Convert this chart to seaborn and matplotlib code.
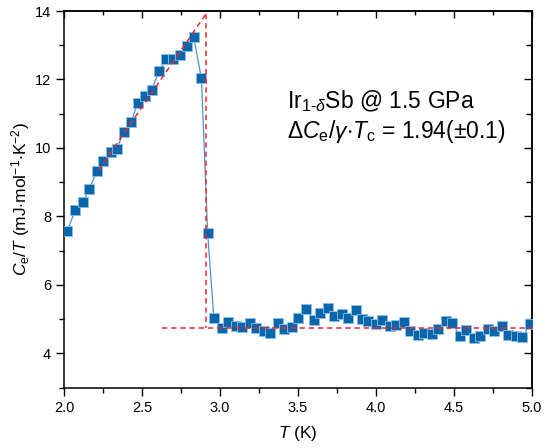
#!/usr/bin/env python3

import numpy as np
import pandas as pd
import seaborn as sns
import matplotlib.pyplot as plt
from matplotlib.ticker import MultipleLocator

sns.set_style('ticks')
plt.rcParams['font.family'] = ['Liberation Sans', 'DejaVu Sans']
plt.rcParams['mathtext.fontset'] = 'custom'
plt.rcParams['mathtext.rm'] = 'Liberation Sans'
plt.rcParams['mathtext.it'] = 'Liberation Sans:italic'
plt.rcParams['mathtext.bf'] = 'Liberation Sans:bold'
for k in ['text.color', 'axes.labelcolor', 'xtick.color', 'ytick.color', 'axes.edgecolor']:
    plt.rcParams[k] = 'black'

# measured data, T (K) and Ce/T (mJ/mol/K^2)
T = [2.02, 2.07, 2.12, 2.16, 2.21, 2.25, 2.30, 2.34, 2.38, 2.43, 2.47, 2.52,
     2.56, 2.61, 2.65, 2.70, 2.74, 2.79, 2.83, 2.88, 2.92, 2.96, 3.01, 3.05,
     3.10, 3.14, 3.19, 3.23, 3.28, 3.32, 3.37, 3.41, 3.46, 3.50, 3.55, 3.60,
     3.64, 3.69, 3.73, 3.78, 3.82, 3.87, 3.91, 3.95, 4.00, 4.04, 4.09, 4.13,
     4.18, 4.22, 4.27, 4.31, 4.36, 4.40, 4.45, 4.49, 4.54, 4.58, 4.63, 4.67,
     4.72, 4.76, 4.81, 4.85, 4.90, 4.94, 4.99]
CeT = [7.58, 8.19, 8.41, 8.80, 9.34, 9.61, 9.89, 9.98, 10.48, 10.76, 11.32, 11.51,
       11.70, 12.25, 12.60, 12.60, 12.72, 12.98, 13.24, 12.04, 7.51, 5.02, 4.74, 4.91,
       4.80, 4.77, 4.89, 4.74, 4.65, 4.60, 4.88, 4.71, 4.77, 5.03, 5.30, 4.98,
       5.17, 5.31, 5.10, 5.16, 5.03, 5.27, 5.00, 4.93, 4.85, 4.96, 4.79, 4.84,
       4.91, 4.66, 4.53, 4.60, 4.57, 4.71, 4.93, 4.88, 4.50, 4.69, 4.45, 4.50,
       4.72, 4.64, 4.80, 4.54, 4.51, 4.47, 4.87]

# entropy-conserving construction (red dashed)
sc_T = [2.22, 2.91]
sc_C = [9.35, 13.92]
jump_T = [2.91, 2.91]
jump_C = [13.92, 4.74]
norm_T = [2.63, 5.0]
norm_C = [4.74, 4.74]

df = pd.DataFrame({'T': T, 'CeT': CeT})

fig = plt.figure(figsize=(5.45, 4.48), dpi=100)
ax = fig.add_axes([0.118, 0.135, 0.8576, 0.8404])

blue = '#0a66aa'
sns.lineplot(data=df, x='T', y='CeT', ax=ax, color='#4b93c9', lw=0.9, zorder=2)
sns.scatterplot(data=df, x='T', y='CeT', ax=ax, marker='s', s=54, color=blue,
                edgecolor='#8cc0e6', linewidth=0.6, zorder=3)

red = '#f0262b'
for xs, ys in [(sc_T, sc_C), (jump_T, jump_C), (norm_T, norm_C)]:
    sns.lineplot(x=xs, y=ys, ax=ax, color=red, lw=1.1, zorder=4,
                 linestyle=(0, (3.5, 2.5)), sort=False, estimator=None)

ax.set_xlim(2.0, 5.0)
ax.set_ylim(3, 14)
ax.xaxis.set_major_locator(MultipleLocator(0.5))
ax.xaxis.set_minor_locator(MultipleLocator(0.25))
ax.yaxis.set_major_locator(MultipleLocator(2))
ax.yaxis.set_minor_locator(MultipleLocator(1))
ax.set_yticks([4, 6, 8, 10, 12, 14])
ax.tick_params(which='major', direction='out', length=6, width=1, labelsize=10.5)
ax.tick_params(which='minor', direction='out', length=3.5, width=1)
for s in ax.spines.values():
    s.set_linewidth(1.1)

top = ax.secondary_xaxis('top')
top.xaxis.set_major_locator(MultipleLocator(0.5))
top.xaxis.set_minor_locator(MultipleLocator(0.25))
top.tick_params(which='major', direction='in', length=5, width=1, labeltop=False)
top.tick_params(which='minor', direction='in', length=3, width=1)
right = ax.secondary_yaxis('right')
right.yaxis.set_major_locator(MultipleLocator(2))
right.yaxis.set_minor_locator(MultipleLocator(1))
right.tick_params(which='major', direction='in', length=6, width=1, labelright=False)
right.tick_params(which='minor', direction='in', length=4.5, width=1)
for sec in (top, right):
    for s in sec.spines.values():
        s.set_linewidth(1.1)

ax.set_xlabel('$T$ (K)', fontsize=12.5, labelpad=7)
ax.set_ylabel('$C_\\mathrm{e}/T$ (mJ$\\cdot$mol$^{-1}$$\\cdot$K$^{-2}$)',
              fontsize=12.5, labelpad=2)

ax.text(3.43, 11.17, 'Ir$_{\\mathrm{1\\text{-}}\\delta}$Sb @ 1.5 GPa',
        fontsize=16.5, ha='left', va='baseline')
ax.text(3.43, 10.29,
        '$\\Delta C_\\mathrm{e}/\\gamma{\\cdot}T_\\mathrm{c}$ = 1.94($\\pm$0.1)',
        fontsize=16.5, ha='left', va='baseline')

fig.savefig('out.png', dpi=100)
